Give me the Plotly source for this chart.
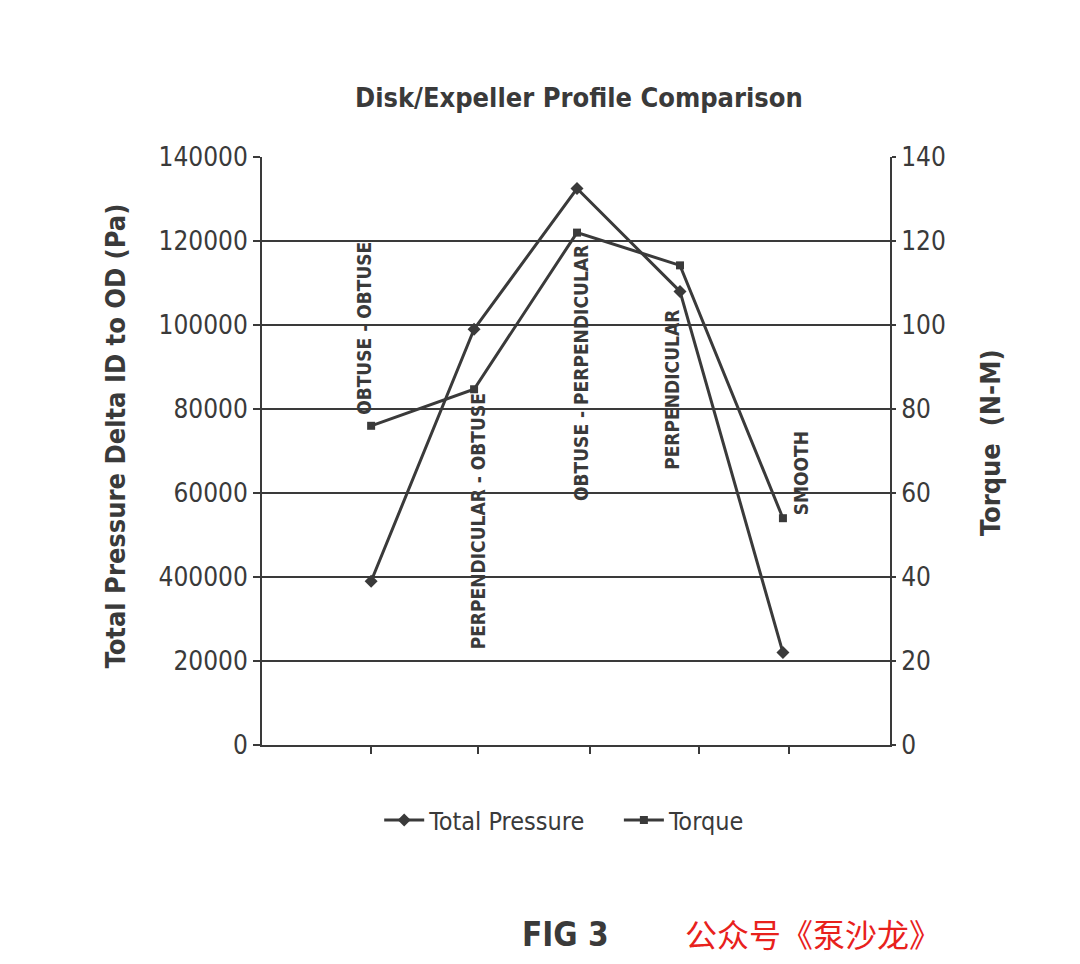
import plotly.graph_objects as go

# ---- data ----
profiles = ["OBTUSE - OBTUSE", "PERPENDICULAR - OBTUSE", "OBTUSE - PERPENDICULAR", "PERPENDICULAR", "SMOOTH"]
x_pos = [1, 2, 3, 4, 5]
total_pressure = [39000, 99000, 132500, 108000, 22000]
torque = [76, 84.7, 122, 114.2, 54]
series_names = ["Total Pressure", "Torque"]
left_tickvals = [0, 20000, 40000, 60000, 80000, 100000, 120000, 140000]
left_ticktext = ["0", "20000", "400000", "60000", "80000", "100000", "120000", "140000"]
right_tickvals = [0, 20, 40, 60, 80, 100, 120, 140]
x_tickvals = [1, 2.04, 3.13, 4.18, 5.06]

# label placement (layout only)
label_x = [0.93, 2.04, 3.04, 3.92, 5.17]
label_y = [99300, 53300, 88600, 84500, 64800]

FONT = "Liberation Sans Narrow, DejaVu Sans Condensed, Roboto Condensed, Arial Narrow, sans-serif"
INK = "#3a3a3a"
GAP = "\u00a0" * 4

fig = go.Figure()
fig.add_trace(go.Scatter(
    x=x_pos, y=total_pressure, name=series_names[0] + GAP, mode="lines+markers",
    line=dict(color=INK, width=3),
    marker=dict(symbol="diamond", size=10, color=INK),
    yaxis="y"))
fig.add_trace(go.Scatter(
    x=x_pos, y=torque, name=series_names[1], mode="lines+markers",
    line=dict(color=INK, width=3),
    marker=dict(symbol="square", size=8, color=INK),
    yaxis="y2"))

annotations = []
for txt, lx, ly in zip(profiles, label_x, label_y):
    annotations.append(dict(
        x=lx, y=ly, xref="x", yref="y", text="<b>" + txt + "</b>", showarrow=False,
        textangle=-90, font=dict(family=FONT, size=19, color=INK),
        xanchor="center", yanchor="middle"))

annotations += [
    dict(x=0.504, y=1.102, xref="paper", yref="paper", text="<b>Disk/Expeller Profile Comparison</b>",
         showarrow=False, font=dict(family=FONT, size=27, color=INK), xanchor="center", yanchor="middle"),
    dict(x=-0.234, y=0.525, xref="paper", yref="paper", text="<b>Total Pressure Delta ID to OD (Pa)</b>",
         showarrow=False, textangle=-90, font=dict(family=FONT, size=27, color=INK),
         xanchor="center", yanchor="middle"),
    dict(x=1.159, y=0.515, xref="paper", yref="paper", text="<b>Torque  (N-M)</b>",
         showarrow=False, textangle=-90, font=dict(family=FONT, size=27, color=INK),
         xanchor="center", yanchor="middle"),
    dict(x=0.484, y=-0.323, xref="paper", yref="paper", text="<b>FIG 3</b>",
         showarrow=False, font=dict(family=FONT, size=33, color=INK), xanchor="center", yanchor="middle"),
    dict(x=0.878, y=-0.32, xref="paper", yref="paper", text="公众号《泵沙龙》",
         showarrow=False, font=dict(family="Noto Sans CJK SC", size=32, color="#e8211c"),
         xanchor="center", yanchor="middle"),
]

fig.update_layout(
    width=1080, height=964,
    margin=dict(l=262, r=190, t=157, b=219),
    paper_bgcolor="white", plot_bgcolor="white",
    font=dict(family=FONT, color=INK),
    showlegend=True,
    legend=dict(orientation="h", x=0.482, y=-0.128, xanchor="center", yanchor="middle",
                font=dict(family=FONT, size=25, color=INK), itemwidth=40, traceorder="normal"),
    xaxis=dict(range=[-0.06, 6.04], tickvals=x_tickvals, ticktext=[""] * len(x_tickvals),
               ticks="outside", ticklen=7, tickwidth=2, tickcolor=INK,
               showline=True, linecolor=INK, linewidth=2, mirror=False,
               showgrid=False, zeroline=False),
    yaxis=dict(range=[0, 140000], tickvals=left_tickvals, ticktext=left_ticktext,
               ticks="outside", ticklen=7, tickwidth=1.5, tickcolor=INK,
               showline=True, linecolor=INK, linewidth=2,
               showgrid=True, gridcolor=INK, gridwidth=1.5, zeroline=False,
               tickfont=dict(family=FONT, size=26, color=INK)),
    yaxis2=dict(range=[0, 140], tickvals=right_tickvals, overlaying="y", side="right",
                ticks="outside", ticklen=4, tickwidth=1.5, tickcolor=INK,
                showline=True, linecolor=INK, linewidth=2,
                showgrid=False, zeroline=False,
                tickfont=dict(family=FONT, size=26, color=INK)),
    annotations=annotations,
)

fig.write_html("out.html")
